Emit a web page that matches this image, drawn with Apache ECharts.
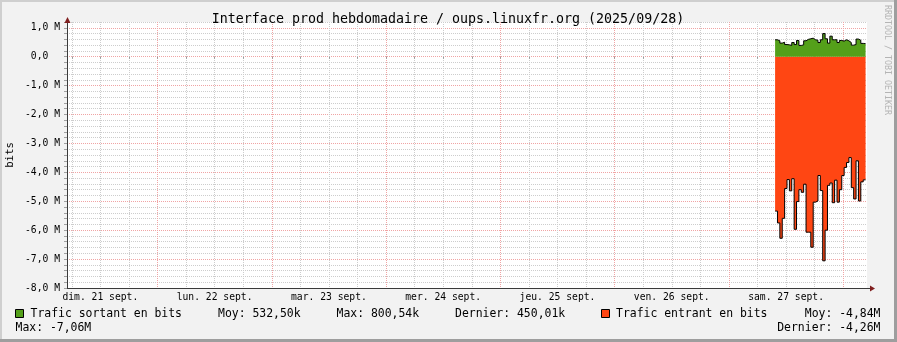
<!DOCTYPE html>
<html><head><meta charset="utf-8">
<script src="https://cdn.jsdelivr.net/npm/echarts@6/dist/echarts.min.js"></script>
<style>html,body{margin:0;padding:0;background:#f2f2f2}#c{width:897px;height:342px}</style>
</head><body><div id="c"></div>
<script>
// ---- data ----
const chartTitle = 'Interface prod hebdomadaire / oups.linuxfr.org (2025/09/28)';
const yAxisName = 'bits';
const watermark = 'RRDTOOL / TOBI OETIKER';
// x axis: hours since 21 sept. 05:00
const dayLabels = ['dim. 21 sept.', 'lun. 22 sept.', 'mar. 23 sept.', 'mer. 24 sept.', 'jeu. 25 sept.', 'ven. 26 sept.', 'sam. 27 sept.'];
const dayLabelHours = [7, 31, 55, 79, 103, 127, 151];
const midnightHours = [19, 43, 67, 91, 115, 139, 163];
const sixHourHours = [1, 7, 13, 19, 25, 31, 37, 43, 49, 55, 61, 67, 73, 79, 85, 91, 97, 103, 109, 115, 121, 127, 133, 139, 145, 151, 157, 163];
// y axis (M bits)
const yTickValues = [-8, -7, -6, -5, -4, -3, -2, -1, 0, 1];
const yTickLabels = ['-8,0 M', '-7,0 M', '-6,0 M', '-5,0 M', '-4,0 M', '-3,0 M', '-2,0 M', '-1,0 M', '0,0\u00a0\u00a0', '1,0 M'];
// samples: 30 minute steps
const sampleStartHour = 148.7;
const sampleStepHours = 0.5;
const sortant = [0.585, 0.55, 0.47, 0.50, 0.42, 0.41, 0.39, 0.49, 0.42, 0.56, 0.39, 0.41, 0.55, 0.60, 0.62, 0.64, 0.585, 0.57, 0.49, 0.585, 0.80, 0.62, 0.47, 0.71, 0.585, 0.585, 0.49, 0.56, 0.54, 0.585, 0.55, 0.49, 0.40, 0.42, 0.61, 0.57, 0.46, 0.45];
const entrant = [-5.34, -5.75, -6.28, -5.59, -4.56, -4.25, -4.64, -4.22, -5.97, -5.01, -4.60, -4.69, -4.41, -6.07, -6.07, -6.59, -5.03, -4.99, -4.11, -4.63, -7.06, -6.00, -4.45, -4.37, -5.05, -4.27, -5.03, -4.60, -4.11, -3.83, -3.66, -3.49, -4.53, -4.92, -3.60, -4.99, -4.33, -4.26];
const legendNames = ['Trafic sortant en bits', 'Trafic entrant en bits'];
const statsSortant = ['Moy: 532,50k', 'Max: 800,54k', 'Dernier: 450,01k'];
const statsEntrant = ['Moy: -4,84M', 'Max: -7,06M', 'Dernier: -4,26M'];

// ---- styles ----
const GREEN = '#54A01A', ORANGE = '#FF4613';
const MONO = '"DejaVu Sans Mono", monospace';
const GRID_GREY = '#cdcdcd', GRID_RED = '#f0a4a4', AXIS = '#3a3a3a', ARROW = '#801F1F';

function stepData(vals) {
  const d = vals.map((v, i) => [sampleStartHour + i * sampleStepHours, v]);
  d.push([sampleStartHour + vals.length * sampleStepHours, vals[vals.length - 1]]);
  return d;
}

const chart = echarts.init(document.getElementById('c'), null, {renderer: 'canvas'});
const X_MIN = 0, X_MAX = 168, Y_MIN = -8, Y_MAX = 1.2;

const option = {
  animation: false,
  backgroundColor: '#f2f2f2',
  grid: {left: 67, top: 22, width: 800, height: 266, show: true, backgroundColor: '#ffffff', borderWidth: 0, containLabel: false, outerBoundsMode: 'none'},
  xAxis: [
    {
      type: 'value', min: X_MIN, max: X_MAX, gridIndex: 0, position: 'bottom', offset: 0,
      axisLine: {show: false},
      axisTick: {show: true, customValues: sixHourHours, length: 2, inside: false, lineStyle: {color: '#9a9a9a'}},
      axisLabel: {show: false},
      splitLine: {show: true, lineStyle: {color: GRID_GREY, width: 1, type: [1, 1]}}
    },
    {
      type: 'value', min: X_MIN, max: X_MAX, gridIndex: 0, position: 'bottom', offset: 0,
      axisLine: {show: true, onZero: false, lineStyle: {color: AXIS, width: 1}},
      axisTick: {show: false, customValues: midnightHours},
      axisLabel: {
        show: true, customValues: dayLabelHours, margin: 4,
        fontFamily: MONO, fontSize: 9.7, color: '#000',
        formatter: v => dayLabels[dayLabelHours.indexOf(v)] || ''
      },
      splitLine: {show: true, lineStyle: {color: GRID_RED, width: 1, type: [1, 1]}}
    }
  ],
  yAxis: [
    {
      type: 'value', min: Y_MIN, max: Y_MAX, interval: 0.2, gridIndex: 0, position: 'left', offset: 0,
      axisLine: {show: false},
      axisTick: {show: true, length: 3, lineStyle: {color: '#a0a0a0'}},
      axisLabel: {show: false},
      splitLine: {show: true, lineStyle: {color: GRID_GREY, width: 1, type: [1, 1]}}
    },
    {
      type: 'value', min: Y_MIN, max: Y_MAX, gridIndex: 0, position: 'left', offset: 0,
      axisLine: {show: true, onZero: false, lineStyle: {color: AXIS, width: 1}},
      axisTick: {show: true, customValues: yTickValues, length: 3, lineStyle: {color: '#a0a0a0'}},
      axisLabel: {
        show: true, customValues: yTickValues, margin: 7,
        fontFamily: MONO, fontSize: 9.7, color: '#000',
        formatter: v => yTickLabels[yTickValues.indexOf(v)] || ''
      },
      splitLine: {show: true, lineStyle: {color: GRID_RED, width: 1, type: [1, 1]}}
    }
  ],
  series: [
    {
      name: legendNames[1], type: 'line', step: 'end', xAxisIndex: 0, yAxisIndex: 0,
      data: stepData(entrant), symbol: 'none', showSymbol: false,
      lineStyle: {color: '#000', width: 1}, areaStyle: {color: ORANGE, opacity: 1, origin: 0}, z: 3
    },
    {
      name: legendNames[0], type: 'line', step: 'end', xAxisIndex: 0, yAxisIndex: 0,
      data: stepData(sortant), symbol: 'none', showSymbol: false,
      lineStyle: {color: '#000', width: 1}, areaStyle: {color: GREEN, opacity: 1, origin: 0}, z: 3
    }
  ]
};
chart.setOption(option);

// axis arrows and decorations positioned through the chart scales
const pOrigin = chart.convertToPixel({gridIndex: 0}, [X_MIN, Y_MIN]);
const pXEnd = chart.convertToPixel({gridIndex: 0}, [X_MAX, Y_MIN]);
const pYEnd = chart.convertToPixel({gridIndex: 0}, [X_MIN, Y_MAX]);
const ax = Math.round(pOrigin[0]) + 0.5, ay = Math.round(pOrigin[1]) + 0.5;
const xe = pXEnd[0], ye = pYEnd[1];

function txt(text, x, y, size, align, extra) {
  return Object.assign({
    type: 'text', silent: true, z: 10,
    style: {text: text, x: x, y: y, fontFamily: MONO, fontSize: size, fill: '#000', align: align || 'left', verticalAlign: 'middle'}
  }, extra || {});
}

const elements = [
  // outer frame shading
  {type: 'rect', shape: {x: 0, y: 0, width: 897, height: 2}, style: {fill: '#cfcfcf'}, silent: true},
  {type: 'rect', shape: {x: 0, y: 0, width: 2, height: 342}, style: {fill: '#cfcfcf'}, silent: true},
  {type: 'rect', shape: {x: 0, y: 339, width: 897, height: 3}, style: {fill: '#9e9e9e'}, silent: true},
  {type: 'rect', shape: {x: 894, y: 0, width: 3, height: 342}, style: {fill: '#9e9e9e'}, silent: true},
  // axis extensions and arrows
  {type: 'line', shape: {x1: xe, y1: ay, x2: xe + 4, y2: ay}, style: {stroke: AXIS, lineWidth: 1}, silent: true, z: 10},
  {type: 'polygon', shape: {points: [[xe + 3, ay - 3], [xe + 8, ay], [xe + 3, ay + 3]]}, style: {fill: ARROW}, silent: true, z: 10},
  {type: 'line', shape: {x1: ax, y1: ye, x2: ax, y2: ye - 1}, style: {stroke: AXIS, lineWidth: 1}, silent: true, z: 10},
  {type: 'polygon', shape: {points: [[ax - 3, ye + 1], [ax, ye - 5], [ax + 3, ye + 1]]}, style: {fill: ARROW}, silent: true, z: 10},
  // title
  txt(chartTitle, 448, 19.5, 13.3, 'center'),
  // y axis name (reads bottom to top)
  txt(yAxisName, 10, (pOrigin[1] + ye) / 2, 10.7, 'center', {rotation: Math.PI / 2}),
  // watermark (reads top to bottom)
  txt(watermark, 887, 60, 8.3, 'center', {rotation: -Math.PI / 2}),
  // legend
  {type: 'rect', shape: {x: 15.5, y: 309.5, width: 8, height: 8}, style: {fill: GREEN, stroke: '#000', lineWidth: 1}, silent: true},
  txt(legendNames[0], 30.5, 314, 11.45),
  txt(statsSortant[0], 218, 314, 11.45),
  txt(statsSortant[1], 336.5, 314, 11.45),
  txt(statsSortant[2], 455, 314, 11.45),
  {type: 'rect', shape: {x: 601.5, y: 309.5, width: 8, height: 8}, style: {fill: ORANGE, stroke: '#000', lineWidth: 1}, silent: true},
  txt(legendNames[1], 616, 314, 11.45),
  txt(statsEntrant[0], 880.5, 314, 11.45, 'right'),
  txt(statsEntrant[1], 15.5, 328.5, 11.45),
  txt(statsEntrant[2], 880.5, 328.5, 11.45, 'right')
];
// rotated texts: place via element x/y
elements.forEach(e => {
  if (e.type === 'text' && e.rotation) {
    e.x = e.style.x; e.y = e.style.y; e.style.x = 0; e.style.y = 0;
  }
});
elements.find(e => e.style && e.style.text === watermark).style.fill = '#b4b4b4';
chart.setOption({graphic: {elements: elements}});
</script>
</body></html>
